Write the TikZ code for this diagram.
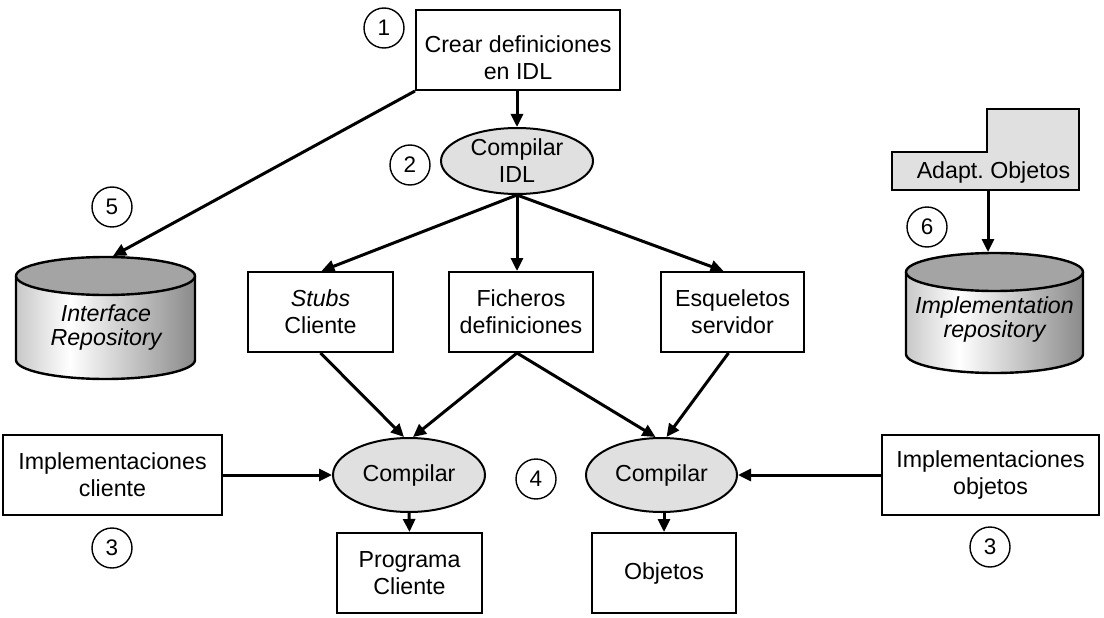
\documentclass[tikz,border=0pt]{standalone}
\usepackage{fontspec}
\setmainfont{Liberation Sans}
\usetikzlibrary{arrows.meta,shapes.geometric}
\definecolor{cylA}{HTML}{C8C8C8}
\definecolor{cylB}{HTML}{8A8A8A}
\definecolor{cyltop}{HTML}{A4A4A4}
\definecolor{procgray}{HTML}{E0E0E0}
\pgfdeclarehorizontalshading{cylshade}{100bp}{color(0bp)=(cylA); color(25bp)=(cylA); color(40bp)=(white); color(75bp)=(cylB); color(100bp)=(cylB)}
\frenchspacing
\begin{document}
\begin{tikzpicture}[x=1pt,y=-1pt,
  every node/.style={font=\fontsize{23.2}{27}\selectfont},
  box/.style={draw, line width=2pt, rectangle, align=center, inner sep=0pt},
  proc/.style={draw, line width=2pt, ellipse, fill=procgray, align=center, inner sep=-6pt, minimum width=152pt},
  num/.style={draw, circle, line width=1.4pt, minimum size=40pt, inner sep=0pt, font=\fontsize{22.5}{24}\selectfont},
  arr/.style={line width=3pt, -{Triangle[length=13pt,width=12pt]}},
  cylline/.style={line width=2.4pt},
  cyltext/.style={align=center, font=\fontsize{23.2}{24}\selectfont\itshape},
]
\useasboundingbox (0,0) rectangle (1104,618);

% --- boxes and processes
\node[box, minimum width=204pt, minimum height=80pt] (crear) at (518,50) {};
\node[align=center] (creart) at (518,58) {Crear definiciones\\en IDL};
\node[proc, minimum height=66pt] (cidl) at (517,161) {Compilar\\IDL};

\node[box, minimum width=145pt, minimum height=80pt] (stubs) at (320.5,312) {\textit{Stubs}\\Cliente};
\node[box, minimum width=144pt, minimum height=80pt] (fich) at (521,312) {Ficheros\\definiciones};
\node[box, minimum width=143pt, minimum height=80pt] (esq) at (732.5,312) {Esqueletos\\servidor};

\node[proc, minimum height=74pt] (compL) at (409,475) {Compilar};
\node[proc, minimum height=74pt, minimum width=151pt] (compR) at (661.5,475) {Compilar};

\node[box, minimum width=219pt, minimum height=80pt] (implc) at (112.5,475) {Implementaciones\\cliente};
\node[box, minimum width=217pt, minimum height=80pt] (implo) at (990.5,475) {Implementaciones\\objetos};

\node[box, minimum width=145pt, minimum height=80pt] (prog) at (409.5,573) {Programa\\Cliente};
\node[box, minimum width=144pt, minimum height=80pt] (obj) at (664,573) {Objetos};

% --- number circles
\node[num] (n1) at (384,28) {1};
\node[num] (n2) at (410,165) {2};
\node[num] (n5) at (112,207) {5};
\node[num] (n6) at (927,227) {6};
\node[num] (n4) at (536,479) {4};
\node[num] (n3a) at (112,548) {3};
\node[num] (n3b) at (990,547) {3};

% --- Interface Repository cylinder
\path[shading=cylshade] (16,276) -- (16,360) arc[start angle=180, end angle=0, x radius=89.5, y radius=19] -- (195,276) arc[start angle=0, end angle=180, x radius=89.5, y radius=19] -- cycle;
\draw[cylline] (16,276) -- (16,360) arc[start angle=180, end angle=0, x radius=89.5, y radius=19] -- (195,276);
\draw[cylline, fill=cyltop] (105.5,276) ellipse[x radius=89.5, y radius=19];
\node[cyltext] (ir) at (106,327) {Interface\\Repository};
\coordinate (irtop) at (113,256);

% --- Implementation repository cylinder
\path[shading=cylshade] (906,272) -- (906,354) arc[start angle=180, end angle=0, x radius=88.5, y radius=19] -- (1083,272) arc[start angle=0, end angle=180, x radius=88.5, y radius=19] -- cycle;
\draw[cylline] (906,272) -- (906,354) arc[start angle=180, end angle=0, x radius=88.5, y radius=19] -- (1083,272);
\draw[cylline, fill=cyltop] (994.5,272) ellipse[x radius=88.5, y radius=19];
\node[cyltext] (imr) at (994.5,319) {Implementation\\repository};
\coordinate (imtop) at (988,252);

% --- Adapt. Objetos shape
\draw[line width=2pt, fill=procgray] (892,152) -- (987,152) -- (987,109) -- (1079,109) -- (1079,190) -- (892,190) -- cycle;
\node (adapt) at (993.5,173) {Adapt. Objetos};
\coordinate (adaptb) at (988,190);

% --- connectors
\draw[arr] (cidl.north |- crear.south) -- (cidl.north);
\draw[arr] (crear.south west) -- (irtop);
\draw[arr] (cidl.south) -- ([xshift=1pt]stubs.north);
\draw[arr] (cidl.south) -- (cidl.south |- fich.north);
\draw[arr] (cidl.south) -- ([xshift=-9pt]esq.north);
\draw[arr] (stubs.south) -- ([xshift=-5pt]compL.north);
\draw[arr] ([xshift=-4pt]fich.south) -- ([xshift=4pt]compL.north);
\draw[arr] ([xshift=-4pt]fich.south) -- ([xshift=-6pt]compR.north);
\draw[arr] ([xshift=-4pt]esq.south) -- ([xshift=5pt]compR.north);
\draw[arr] (implc.east) -- (compL.west);
\draw[arr] (implo.west) -- (compR.east);
\draw[arr] (compL.south) -- (prog.north);
\draw[arr] (obj.north |- compR.south) -- (obj.north);
\draw[arr] (adaptb) -- (imtop);
\end{tikzpicture}
\end{document}
